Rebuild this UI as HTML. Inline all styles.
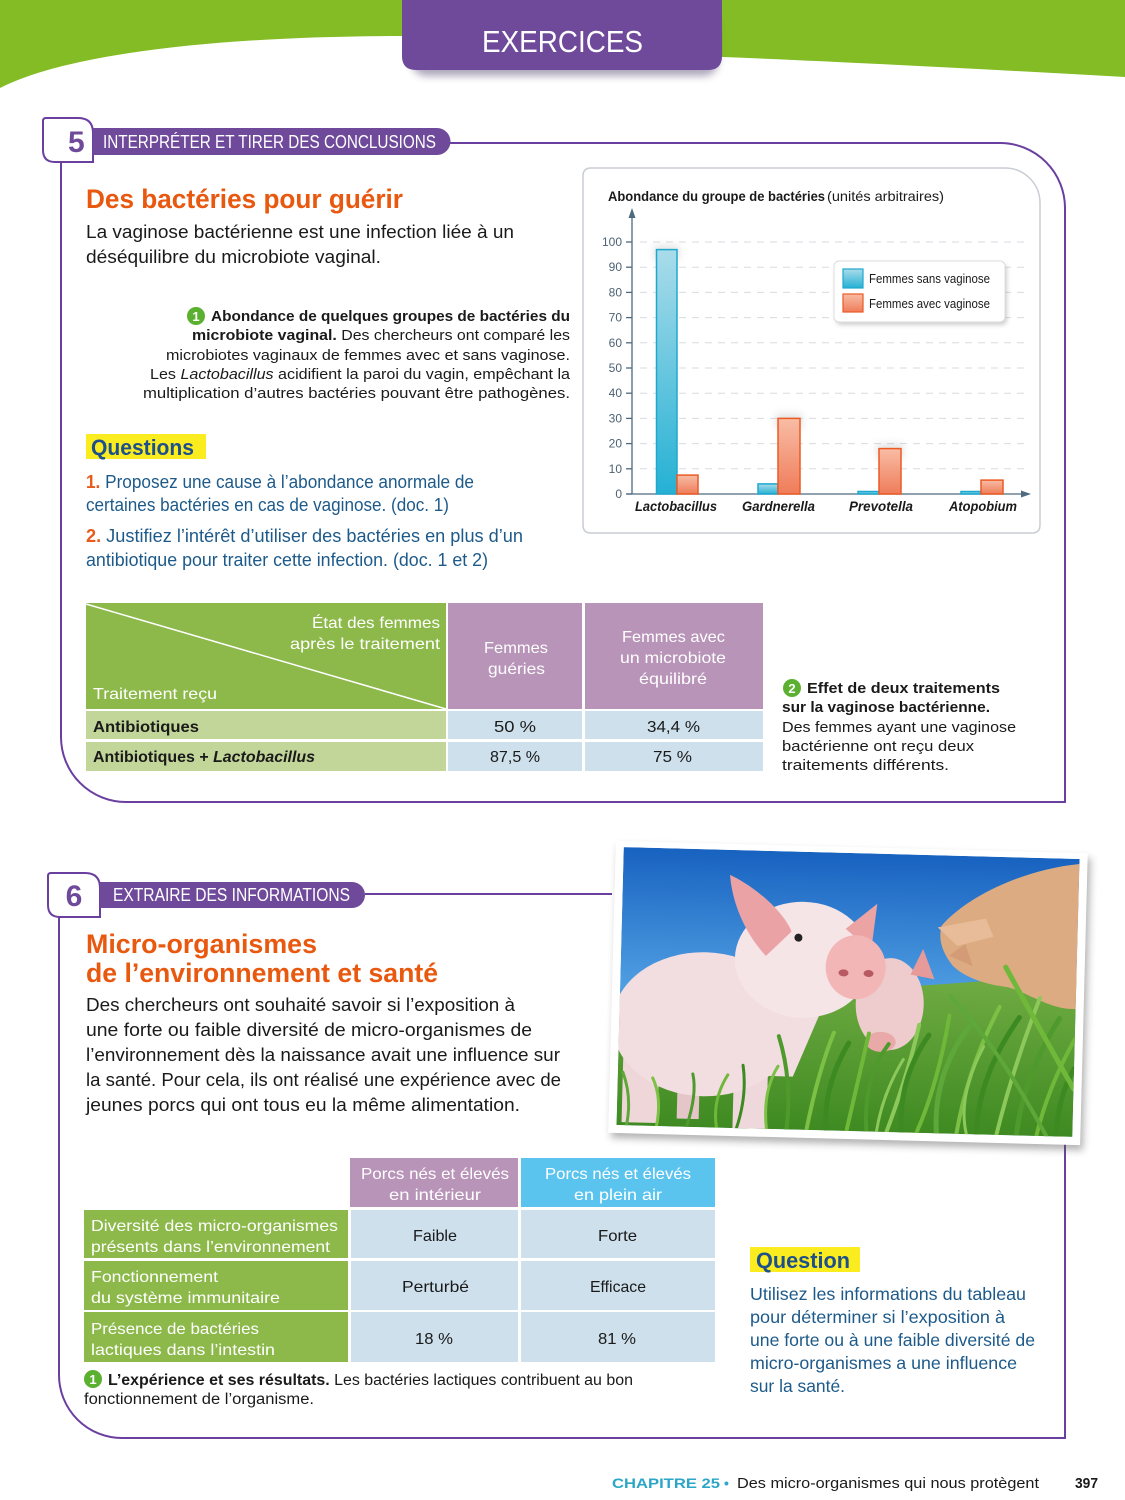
<!DOCTYPE html>
<html><head><meta charset="utf-8"><style>
html,body{margin:0;padding:0;background:#fff;}
svg{display:block;}
text{font-family:"Liberation Sans",sans-serif;}
</style></head><body>
<svg width="1125" height="1500" viewBox="0 0 1125 1500" xmlns="http://www.w3.org/2000/svg">
<defs>
 <filter id="blur4" x="-30%" y="-30%" width="160%" height="160%"><feGaussianBlur stdDeviation="4"/></filter>
 <filter id="blur2" x="-30%" y="-30%" width="160%" height="160%"><feGaussianBlur stdDeviation="2"/></filter>
 <linearGradient id="gb" x1="0" y1="0" x2="0" y2="1"><stop offset="0" stop-color="#aadcea"/><stop offset="1" stop-color="#25b1d4"/></linearGradient>
 <linearGradient id="go" x1="0" y1="0" x2="0" y2="1"><stop offset="0" stop-color="#f8bda5"/><stop offset="1" stop-color="#ef7c5a"/></linearGradient>
 <linearGradient id="sky" x1="0" y1="0" x2="0" y2="1"><stop offset="0" stop-color="#1862c0"/><stop offset="0.5" stop-color="#4f9ee2"/><stop offset="1" stop-color="#8cc0ea"/></linearGradient>
 <linearGradient id="grass" x1="0" y1="0" x2="0" y2="1"><stop offset="0" stop-color="#72ad44"/><stop offset="1" stop-color="#3f8a22"/></linearGradient>
 <clipPath id="phc"><rect x="0" y="0" width="456" height="278"/></clipPath>
</defs>

<!-- Header -->
<path d="M0,0 H1125 V77 C1000,70 850,62 723,57 L402,36 C230,36 70,52 0,88 Z" fill="#84bc25"/>
<rect x="412" y="14" width="306" height="62" rx="14" fill="#4a3a66" opacity="0.45" filter="url(#blur4)"/>
<path d="M402,0 H722 V56 Q722,70 708,70 H416 Q402,70 402,56 Z" fill="#6f4a9b"/>
<text x="482" y="52" font-size="31" fill="#fff" textLength="161" lengthAdjust="spacingAndGlyphs">EXERCICES</text>

<!-- Section 5 frame -->
<path d="M61,162 V737 A65,65 0 0 0 126,802 H1065 V208 A65,65 0 0 0 1000,143 H450" fill="none" stroke="#6a3fa0" stroke-width="2"/>
<path d="M93,162 H55 Q43,162 43,150 V121 Q43,118 46,118 H78 Q93,118 93,133 Z" fill="#fff" stroke="#6a3fa0" stroke-width="2"/>
<path d="M93,128 H437 A13.5,13.5 0 0 1 437,155 H93 Z" fill="#6f4a9b"/>
<text x="68" y="152" font-size="30" font-weight="bold" fill="#6f4a9b">5</text>
<text x="103" y="148" font-size="18" fill="#fff" textLength="333" lengthAdjust="spacingAndGlyphs">INTERPRÉTER ET TIRER DES CONCLUSIONS</text>

<text x="86" y="208" font-size="27" font-weight="bold" fill="#e8580f" textLength="317" lengthAdjust="spacingAndGlyphs">Des bactéries pour guérir</text>
<text x="86" y="238" font-size="18" fill="#1a1a1a" textLength="428" lengthAdjust="spacingAndGlyphs">La vaginose bactérienne est une infection liée à un</text>
<text x="86" y="263" font-size="18" fill="#1a1a1a" textLength="295" lengthAdjust="spacingAndGlyphs">déséquilibre du microbiote vaginal.</text>

<!-- Caption 1 -->
<circle cx="196" cy="316" r="9" fill="#5bb030"/>
<text x="196" y="321" font-size="13" font-weight="bold" fill="#fff" text-anchor="middle">1</text>
<text x="211" y="321" font-size="15" font-weight="bold" fill="#1a1a1a" textLength="359" lengthAdjust="spacingAndGlyphs">Abondance de quelques groupes de bactéries du</text>
<text x="192" y="340" font-size="15" fill="#1a1a1a" textLength="378" lengthAdjust="spacingAndGlyphs"><tspan font-weight="bold">microbiote vaginal.</tspan> Des chercheurs ont comparé les</text>
<text x="166" y="360" font-size="15" fill="#1a1a1a" textLength="404" lengthAdjust="spacingAndGlyphs">microbiotes vaginaux de femmes avec et sans vaginose.</text>
<text x="150" y="379" font-size="15" fill="#1a1a1a" textLength="420" lengthAdjust="spacingAndGlyphs">Les <tspan font-style="italic">Lactobacillus</tspan> acidifient la paroi du vagin, empêchant la</text>
<text x="143" y="398" font-size="15" fill="#1a1a1a" textLength="427" lengthAdjust="spacingAndGlyphs">multiplication d’autres bactéries pouvant être pathogènes.</text>

<!-- Questions -->
<rect x="86" y="434" width="120" height="25" fill="#fbec1f"/>
<text x="91" y="455" font-size="22" font-weight="bold" fill="#1c4f8c" textLength="103" lengthAdjust="spacingAndGlyphs">Questions</text>
<text x="86" y="488" font-size="18" fill="#1d5a8a" textLength="388" lengthAdjust="spacingAndGlyphs"><tspan fill="#e85a1a" font-weight="bold">1.</tspan> Proposez une cause à l’abondance anormale de</text>
<text x="86" y="511" font-size="18" fill="#1d5a8a" textLength="363" lengthAdjust="spacingAndGlyphs">certaines bactéries en cas de vaginose. (doc. 1)</text>
<text x="86" y="542" font-size="18" fill="#1d5a8a" textLength="437" lengthAdjust="spacingAndGlyphs"><tspan fill="#e85a1a" font-weight="bold">2.</tspan> Justifiez l’intérêt d’utiliser des bactéries en plus d’un</text>
<text x="86" y="566" font-size="18" fill="#1d5a8a" textLength="402" lengthAdjust="spacingAndGlyphs">antibiotique pour traiter cette infection. (doc. 1 et 2)</text>

<!-- Chart -->
<path d="M591,168 H1005 A35,35 0 0 1 1040,203 V525 Q1040,533 1032,533 H591 Q583,533 583,525 V176 Q583,168 591,168 Z" fill="#fff" stroke="#c9cdd4" stroke-width="1.5"/>
<text x="608" y="201" font-size="14" font-weight="bold" fill="#1a1a1a" textLength="217" lengthAdjust="spacingAndGlyphs">Abondance du groupe de bactéries</text>
<text x="827" y="201" font-size="14" fill="#1a1a1a" textLength="117" lengthAdjust="spacingAndGlyphs">(unités arbitraires)</text>
<g stroke="#d8dbe0" stroke-width="1" stroke-dasharray="7,6">
 <line x1="640" y1="242" x2="1025" y2="242"/>
 <line x1="640" y1="267.2" x2="1025" y2="267.2"/>
 <line x1="640" y1="292.4" x2="1025" y2="292.4"/>
 <line x1="640" y1="317.6" x2="1025" y2="317.6"/>
 <line x1="640" y1="342.8" x2="1025" y2="342.8"/>
 <line x1="640" y1="368" x2="1025" y2="368"/>
 <line x1="640" y1="393.2" x2="1025" y2="393.2"/>
 <line x1="640" y1="418.4" x2="1025" y2="418.4"/>
 <line x1="640" y1="443.6" x2="1025" y2="443.6"/>
 <line x1="640" y1="468.8" x2="1025" y2="468.8"/>
</g>
<g stroke="#4d6a80" stroke-width="1.3">
 <line x1="626" y1="242" x2="632" y2="242"/>
 <line x1="626" y1="267.2" x2="632" y2="267.2"/>
 <line x1="626" y1="292.4" x2="632" y2="292.4"/>
 <line x1="626" y1="317.6" x2="632" y2="317.6"/>
 <line x1="626" y1="342.8" x2="632" y2="342.8"/>
 <line x1="626" y1="368" x2="632" y2="368"/>
 <line x1="626" y1="393.2" x2="632" y2="393.2"/>
 <line x1="626" y1="418.4" x2="632" y2="418.4"/>
 <line x1="626" y1="443.6" x2="632" y2="443.6"/>
 <line x1="626" y1="468.8" x2="632" y2="468.8"/>
 <line x1="626" y1="494" x2="632" y2="494"/>
 <line x1="632" y1="216" x2="632" y2="494"/>
 <line x1="627" y1="494" x2="1024" y2="494"/>
</g>
<path d="M632,208 L628.5,218 L635.5,218 Z" fill="#4d6a80"/>
<path d="M1031,494 L1021,490.5 L1021,497.5 Z" fill="#4d6a80"/>
<g font-size="12" fill="#4d6275" text-anchor="end">
 <text x="622" y="246">100</text>
 <text x="622" y="271.2">90</text>
 <text x="622" y="296.4">80</text>
 <text x="622" y="321.6">70</text>
 <text x="622" y="346.8">60</text>
 <text x="622" y="372">50</text>
 <text x="622" y="397.2">40</text>
 <text x="622" y="422.4">30</text>
 <text x="622" y="447.6">20</text>
 <text x="622" y="472.8">10</text>
 <text x="622" y="498">0</text>
</g>
<g fill="#888" opacity="0.25" filter="url(#blur4)">
 <rect x="654" y="246" width="25" height="14"/>
 <rect x="776" y="414" width="26" height="14"/>
 <rect x="877" y="444" width="26" height="14"/>
</g>
<g stroke-width="1.5">
 <rect x="656.5" y="249.6" width="20.5" height="244.4" fill="url(#gb)" stroke="#1fa8cf"/>
 <rect x="677" y="475.1" width="21" height="18.9" fill="url(#go)" stroke="#eb5a24"/>
 <rect x="758" y="483.9" width="20" height="10.1" fill="url(#gb)" stroke="#1fa8cf"/>
 <rect x="778" y="418.4" width="22" height="75.6" fill="url(#go)" stroke="#eb5a24"/>
 <rect x="858" y="491.5" width="21" height="2.5" fill="url(#gb)" stroke="#1fa8cf"/>
 <rect x="879" y="448.6" width="22" height="45.4" fill="url(#go)" stroke="#eb5a24"/>
 <rect x="961" y="491.5" width="20" height="2.5" fill="url(#gb)" stroke="#1fa8cf"/>
 <rect x="981" y="480.1" width="22" height="13.9" fill="url(#go)" stroke="#eb5a24"/>
</g>
<g font-size="14" font-weight="bold" font-style="italic" fill="#1a1a1a">
 <text x="635" y="511" textLength="82" lengthAdjust="spacingAndGlyphs">Lactobacillus</text>
 <text x="742" y="511" textLength="73" lengthAdjust="spacingAndGlyphs">Gardnerella</text>
 <text x="849" y="511" textLength="64" lengthAdjust="spacingAndGlyphs">Prevotella</text>
 <text x="949" y="511" textLength="68" lengthAdjust="spacingAndGlyphs">Atopobium</text>
</g>
<rect x="836" y="264" width="171" height="61" rx="5" fill="#777" opacity="0.35" filter="url(#blur2)"/>
<rect x="834" y="261" width="171" height="61" rx="5" fill="#fff" stroke="#dcdcdc"/>
<rect x="843" y="269" width="20" height="19" fill="url(#gb)" stroke="#1fa8cf" stroke-width="1.2"/>
<rect x="843" y="294" width="20" height="18" fill="url(#go)" stroke="#eb5a24" stroke-width="1.2"/>
<text x="869" y="283" font-size="13" fill="#1a1a1a" textLength="121" lengthAdjust="spacingAndGlyphs">Femmes sans vaginose</text>
<text x="869" y="308" font-size="13" fill="#1a1a1a" textLength="121" lengthAdjust="spacingAndGlyphs">Femmes avec vaginose</text>

<!-- Table 1 -->
<rect x="86" y="603" width="360" height="106" fill="#8db94b"/>
<rect x="448" y="603" width="134" height="106" fill="#b894b8"/>
<rect x="585" y="603" width="178" height="106" fill="#b894b8"/>
<line x1="86" y1="604" x2="446" y2="709" stroke="#fff" stroke-width="1.5"/>
<rect x="86" y="711" width="360" height="28" fill="#c3d699"/>
<rect x="448" y="711" width="134" height="28" fill="#cde0ec"/>
<rect x="585" y="711" width="178" height="28" fill="#cde0ec"/>
<rect x="86" y="742" width="360" height="29" fill="#c3d699"/>
<rect x="448" y="742" width="134" height="29" fill="#cde0ec"/>
<rect x="585" y="742" width="178" height="29" fill="#cde0ec"/>
<g font-size="16" fill="#fff">
 <text x="312" y="628" textLength="128" lengthAdjust="spacingAndGlyphs">État des femmes</text>
 <text x="290" y="649" textLength="150" lengthAdjust="spacingAndGlyphs">après le traitement</text>
 <text x="93" y="699" textLength="124" lengthAdjust="spacingAndGlyphs">Traitement reçu</text>
 <text x="484" y="653" textLength="64" lengthAdjust="spacingAndGlyphs">Femmes</text>
 <text x="488" y="674" textLength="57" lengthAdjust="spacingAndGlyphs">guéries</text>
 <text x="622" y="642" textLength="103" lengthAdjust="spacingAndGlyphs">Femmes avec</text>
 <text x="620" y="663" textLength="106" lengthAdjust="spacingAndGlyphs">un microbiote</text>
 <text x="639" y="684" textLength="68" lengthAdjust="spacingAndGlyphs">équilibré</text>
</g>
<g font-size="16" fill="#1a1a1a">
 <text x="93" y="732" font-weight="bold" textLength="106" lengthAdjust="spacingAndGlyphs">Antibiotiques</text>
 <text x="93" y="762" font-weight="bold" textLength="222" lengthAdjust="spacingAndGlyphs">Antibiotiques + <tspan font-style="italic">Lactobacillus</tspan></text>
 <text x="494" y="732" textLength="42" lengthAdjust="spacingAndGlyphs">50 %</text>
 <text x="647" y="732" textLength="53" lengthAdjust="spacingAndGlyphs">34,4 %</text>
 <text x="490" y="762" textLength="50" lengthAdjust="spacingAndGlyphs">87,5 %</text>
 <text x="653" y="762" textLength="39" lengthAdjust="spacingAndGlyphs">75 %</text>
</g>
<circle cx="792" cy="688" r="9" fill="#5bb030"/>
<text x="792" y="693" font-size="13" font-weight="bold" fill="#fff" text-anchor="middle">2</text>
<g font-size="15" fill="#1a1a1a">
 <text x="807" y="693" font-weight="bold" textLength="193" lengthAdjust="spacingAndGlyphs">Effet de deux traitements</text>
 <text x="782" y="712" font-weight="bold" textLength="208" lengthAdjust="spacingAndGlyphs">sur la vaginose bactérienne.</text>
 <text x="782" y="732" textLength="234" lengthAdjust="spacingAndGlyphs">Des femmes ayant une vaginose</text>
 <text x="782" y="751" textLength="192" lengthAdjust="spacingAndGlyphs">bactérienne ont reçu deux</text>
 <text x="782" y="770" textLength="167" lengthAdjust="spacingAndGlyphs">traitements différents.</text>
</g>

<!-- Section 6 frame -->
<path d="M59,917 V1375 A63,63 0 0 0 122,1438 H1065 V1142" fill="none" stroke="#6a3fa0" stroke-width="2"/>
<line x1="365" y1="894" x2="612" y2="894" stroke="#6a3fa0" stroke-width="2"/>
<path d="M100,917 H60 Q48,917 48,905 V876 Q48,873 51,873 H85 Q100,873 100,888 Z" fill="#fff" stroke="#6a3fa0" stroke-width="2"/>
<path d="M100,882 H352 A13,13 0 0 1 352,908 H100 Z" fill="#6f4a9b"/>
<text x="74" y="906" font-size="30" font-weight="bold" fill="#6f4a9b" text-anchor="middle">6</text>
<text x="113" y="901" font-size="18" fill="#fff" textLength="237" lengthAdjust="spacingAndGlyphs">EXTRAIRE DES INFORMATIONS</text>

<text x="86" y="953" font-size="27" font-weight="bold" fill="#e8580f" textLength="231" lengthAdjust="spacingAndGlyphs">Micro-organismes</text>
<text x="86" y="982" font-size="27" font-weight="bold" fill="#e8580f" textLength="352" lengthAdjust="spacingAndGlyphs">de l’environnement et santé</text>
<g font-size="18.5" fill="#1a1a1a">
 <text x="86" y="1011" textLength="429" lengthAdjust="spacingAndGlyphs">Des chercheurs ont souhaité savoir si l’exposition à</text>
 <text x="86" y="1036" textLength="446" lengthAdjust="spacingAndGlyphs">une forte ou faible diversité de micro-organismes de</text>
 <text x="86" y="1061" textLength="474" lengthAdjust="spacingAndGlyphs">l’environnement dès la naissance avait une influence sur</text>
 <text x="86" y="1086" textLength="475" lengthAdjust="spacingAndGlyphs">la santé. Pour cela, ils ont réalisé une expérience avec de</text>
 <text x="86" y="1111" textLength="434" lengthAdjust="spacingAndGlyphs">jeunes porcs qui ont tous eu la même alimentation.</text>
</g>

<!-- Photo -->
<g transform="translate(848,993) rotate(1.5)">
 <rect x="-233" y="-141" width="472" height="292" fill="#555" opacity="0.45" filter="url(#blur4)"/>
 <rect x="-236" y="-146" width="472" height="292" fill="#fff"/>
 <g transform="translate(-228,-140)" clip-path="url(#phc)">
  <rect x="0" y="0" width="456" height="278" fill="url(#sky)"/>
  <path d="M0,165 L80,158 L200,140 L330,128 L456,115 L456,278 L0,278 Z" fill="url(#grass)"/>
  <!-- adult pig -->
  <path d="M320,70 C345,40 400,12 456,5 L456,150 C432,152 408,135 388,130 C366,128 345,122 332,110 C322,98 316,85 320,70 Z" fill="#dcab82"/>
  <path d="M316,72 L364,62 L372,80 L336,90 Z" fill="#e8bc98"/>
  <path d="M328,100 L344,88 L352,110 Z" fill="#d39c76"/>
  <!-- middle piglet -->
  <ellipse cx="270" cy="150" rx="34" ry="46" fill="#eecbcc"/>
  <path d="M290,120 L302,94 L314,124 Z" fill="#e79a9a"/>
  <ellipse cx="262" cy="188" rx="15" ry="10" fill="#e9a9a9"/>
  <!-- main piglet -->
  <rect x="5" y="195" width="36" height="80" fill="#eed6d9"/>
  <rect x="60" y="210" width="22" height="60" fill="#e4c6c9"/>
  <rect x="116" y="200" width="34" height="78" fill="#efd8db"/>
  <ellipse cx="85" cy="175" rx="92" ry="72" fill="#f2dde0"/>
  <path d="M120,100 C140,150 180,165 205,150 L175,225 L105,225 Z" fill="#f2dde0"/>
  <ellipse cx="182" cy="108" rx="68" ry="58" fill="#f5e5e7"/>
  <path d="M107,25 C130,35 160,58 170,80 L145,105 C125,85 110,55 107,25 Z" fill="#eaa2a5"/>
  <path d="M255,50 L250,97 L224,76 Z" fill="#eba3a3"/>
  <ellipse cx="235" cy="114" rx="30" ry="32" fill="#f3b6b6"/>
  <ellipse cx="223" cy="120" rx="5" ry="3.5" fill="#b85a62"/>
  <ellipse cx="248" cy="120" rx="5" ry="3.5" fill="#b85a62"/>
  <circle cx="177" cy="86" r="4" fill="#222"/>
  <!-- grass blades -->
  <g fill="none" stroke-linecap="round">
   <path d="M170,278 Q175,230 160,185" stroke="#4f9a2c" stroke-width="4"/>
   <path d="M190,278 Q200,220 215,180" stroke="#7cc046" stroke-width="4"/>
   <path d="M210,278 Q205,235 230,190" stroke="#3d8a22" stroke-width="5"/>
   <path d="M230,278 Q240,230 250,180" stroke="#6fb83a" stroke-width="4"/>
   <path d="M250,278 Q245,225 270,190" stroke="#4f9a2c" stroke-width="4"/>
   <path d="M270,278 Q290,220 300,170" stroke="#8cc85a" stroke-width="4"/>
   <path d="M285,278 Q280,225 310,180" stroke="#3d8a22" stroke-width="5"/>
   <path d="M300,278 Q320,230 330,160" stroke="#6fb83a" stroke-width="4"/>
   <path d="M320,278 Q315,220 350,170" stroke="#5ea83a" stroke-width="5"/>
   <path d="M340,278 Q350,210 380,150" stroke="#7cc046" stroke-width="4"/>
   <path d="M360,278 Q360,220 400,160" stroke="#3d8a22" stroke-width="5"/>
   <path d="M380,278 Q395,210 420,140" stroke="#8cc85a" stroke-width="4"/>
   <path d="M400,278 Q405,220 440,160" stroke="#4f9a2c" stroke-width="5"/>
   <path d="M420,278 Q430,230 456,180" stroke="#6fb83a" stroke-width="4"/>
   <path d="M440,278 Q440,240 456,210" stroke="#3d8a22" stroke-width="5"/>
   <path d="M385,110 Q420,170 456,230" stroke="#6fb83a" stroke-width="5"/>
   <path d="M330,140 Q380,190 430,278" stroke="#5ea83a" stroke-width="4"/>
   <path d="M10,278 Q15,250 5,225" stroke="#5ea83a" stroke-width="3"/>
   <path d="M40,278 Q45,250 35,230" stroke="#7cc046" stroke-width="3"/>
   <path d="M70,278 Q80,245 75,225" stroke="#4f9a2c" stroke-width="3"/>
   <path d="M100,278 Q95,250 110,225" stroke="#6fb83a" stroke-width="3"/>
   <path d="M120,278 Q130,245 125,215" stroke="#3d8a22" stroke-width="3"/>
   <path d="M150,278 Q145,240 160,215" stroke="#7cc046" stroke-width="3"/>
   <path d="M260,278 Q265,240 285,205" stroke="#8cc85a" stroke-width="3"/>
   <path d="M350,278 Q340,240 365,190" stroke="#8cc85a" stroke-width="3"/>
  </g>
 </g>
</g>

<!-- Table 2 -->
<rect x="350" y="1158" width="168" height="49" fill="#b894b8"/>
<rect x="521" y="1158" width="194" height="49" fill="#5bc4ee"/>
<rect x="84" y="1210" width="264" height="48" fill="#8db94b"/>
<rect x="351" y="1210" width="167" height="48" fill="#cde0ec"/>
<rect x="521" y="1210" width="194" height="48" fill="#cde0ec"/>
<rect x="84" y="1261" width="264" height="49" fill="#8db94b"/>
<rect x="351" y="1261" width="167" height="49" fill="#cde0ec"/>
<rect x="521" y="1261" width="194" height="49" fill="#cde0ec"/>
<rect x="84" y="1312" width="264" height="50" fill="#8db94b"/>
<rect x="351" y="1312" width="167" height="50" fill="#cde0ec"/>
<rect x="521" y="1312" width="194" height="50" fill="#cde0ec"/>
<g font-size="16" fill="#fff">
 <text x="361" y="1179" textLength="148" lengthAdjust="spacingAndGlyphs">Porcs nés et élevés</text>
 <text x="389" y="1200" textLength="92" lengthAdjust="spacingAndGlyphs">en intérieur</text>
 <text x="545" y="1179" textLength="146" lengthAdjust="spacingAndGlyphs">Porcs nés et élevés</text>
 <text x="574" y="1200" textLength="88" lengthAdjust="spacingAndGlyphs">en plein air</text>
 <text x="91" y="1231" textLength="247" lengthAdjust="spacingAndGlyphs">Diversité des micro-organismes</text>
 <text x="91" y="1252" textLength="239" lengthAdjust="spacingAndGlyphs">présents dans l’environnement</text>
 <text x="91" y="1282" textLength="127" lengthAdjust="spacingAndGlyphs">Fonctionnement</text>
 <text x="91" y="1303" textLength="189" lengthAdjust="spacingAndGlyphs">du système immunitaire</text>
 <text x="91" y="1334" textLength="168" lengthAdjust="spacingAndGlyphs">Présence de bactéries</text>
 <text x="91" y="1355" textLength="184" lengthAdjust="spacingAndGlyphs">lactiques dans l’intestin</text>
</g>
<g font-size="16" fill="#1a1a1a">
 <text x="413" y="1241" textLength="44" lengthAdjust="spacingAndGlyphs">Faible</text>
 <text x="598" y="1241" textLength="39" lengthAdjust="spacingAndGlyphs">Forte</text>
 <text x="402" y="1292" textLength="67" lengthAdjust="spacingAndGlyphs">Perturbé</text>
 <text x="590" y="1292" textLength="56" lengthAdjust="spacingAndGlyphs">Efficace</text>
 <text x="415" y="1344" textLength="38" lengthAdjust="spacingAndGlyphs">18 %</text>
 <text x="598" y="1344" textLength="38" lengthAdjust="spacingAndGlyphs">81 %</text>
</g>
<circle cx="93" cy="1379" r="9" fill="#5bb030"/>
<text x="93" y="1384" font-size="13" font-weight="bold" fill="#fff" text-anchor="middle">1</text>
<text x="108" y="1385" font-size="15.5" fill="#1a1a1a" textLength="525" lengthAdjust="spacingAndGlyphs"><tspan font-weight="bold">L’expérience et ses résultats.</tspan> Les bactéries lactiques contribuent au bon</text>
<text x="84" y="1404" font-size="15.5" fill="#1a1a1a" textLength="230" lengthAdjust="spacingAndGlyphs">fonctionnement de l’organisme.</text>

<!-- Question 6 -->
<rect x="750" y="1247" width="110" height="25" fill="#fbec1f"/>
<text x="756" y="1268" font-size="22" font-weight="bold" fill="#1c4f8c" textLength="94" lengthAdjust="spacingAndGlyphs">Question</text>
<g font-size="17.5" fill="#1d5a8a">
 <text x="750" y="1300" textLength="276" lengthAdjust="spacingAndGlyphs">Utilisez les informations du tableau</text>
 <text x="750" y="1323" textLength="255" lengthAdjust="spacingAndGlyphs">pour déterminer si l’exposition à</text>
 <text x="750" y="1346" textLength="285" lengthAdjust="spacingAndGlyphs">une forte ou à une faible diversité de</text>
 <text x="750" y="1369" textLength="267" lengthAdjust="spacingAndGlyphs">micro-organismes a une influence</text>
 <text x="750" y="1392" textLength="95" lengthAdjust="spacingAndGlyphs">sur la santé.</text>
</g>

<!-- Footer -->
<text x="612" y="1488" font-size="14" font-weight="bold" fill="#2aa6c9" textLength="108" lengthAdjust="spacingAndGlyphs">CHAPITRE 25</text>
<text x="724" y="1488" font-size="14" font-weight="bold" fill="#2aa6c9">•</text>
<text x="737" y="1488" font-size="15" fill="#1a1a1a" textLength="302" lengthAdjust="spacingAndGlyphs">Des micro-organismes qui nous protègent</text>
<text x="1075" y="1488" font-size="15" font-weight="bold" fill="#1a1a1a" textLength="23" lengthAdjust="spacingAndGlyphs">397</text>
</svg>
</body></html>
